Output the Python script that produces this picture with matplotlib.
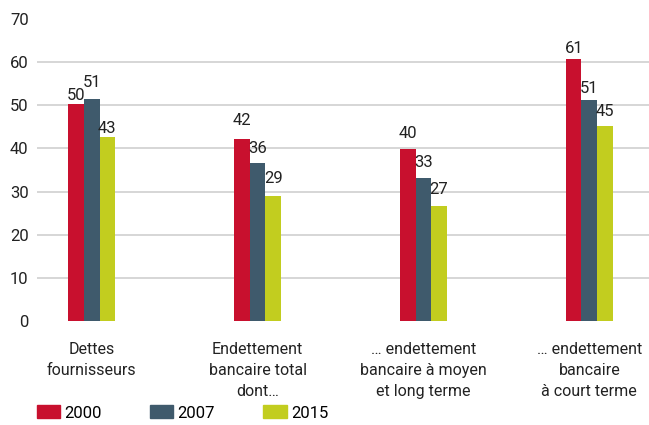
import numpy as np
import matplotlib
matplotlib.use('Agg')
import matplotlib.pyplot as plt
from matplotlib.patches import Patch

plt.rcParams['font.family'] = ['Roboto', 'DejaVu Sans']

categories = ['Dettes\nfournisseurs', 'Endettement\nbancaire total\ndont…',
              '… endettement\nbancaire à moyen\net long terme', '… endettement\nbancaire\nà court terme']
years = ['2000', '2007', '2015']
v2000 = [50, 42, 40, 61]
v2007 = [51, 36, 33, 51]
v2015 = [43, 29, 27, 45]
# hauteurs des barres
h2000 = [50.3, 42.2, 39.8, 60.8]
h2007 = [51.4, 36.7, 33.1, 51.2]
h2015 = [42.6, 29.0, 26.7, 45.2]

colors = ['#c8102e', '#3f5a6c', '#c2cd1f']
fs = 11.5
# décalage vertical des étiquettes (points), comme dans l'original
lab_dy = [[1, 8, 6, 2], [7, 5, 6, 3], [1, 7, 6, 5]]

fig = plt.figure(figsize=(6.49, 4.25), dpi=100)
ax = fig.add_axes([37/649, 104/425, 1 - 37/649, 302/425])

x = np.arange(len(categories))
w = 0.094
for k, (h, v) in enumerate(zip([h2000, h2007, h2015], [v2000, v2007, v2015])):
    pos = x + (k - 1) * w
    ax.bar(pos, h, w, color=colors[k], zorder=3)
    for j, (px, hh, vv) in enumerate(zip(pos, h, v)):
        ax.annotate(str(vv), (px, hh), xytext=(0, lab_dy[k][j]), textcoords='offset points',
                    ha='center', va='bottom', fontsize=fs + 0.5, color='#222222')

ax.set_xlim(-0.33, 3.36)
ax.set_ylim(0, 70)
ax.set_yticks(range(0, 71, 10))
for g in range(10, 61, 10):
    ax.axhline(g, color='#d3d3d3', lw=1.3, zorder=1)
ax.set_xticks(x)
ax.set_xticklabels(categories, fontsize=fs, linespacing=1.5)
ax.tick_params(axis='both', length=0, labelsize=fs + 0.5, colors='#222222')
ax.tick_params(axis='x', pad=15, labelsize=fs)
ax.tick_params(axis='y', pad=6)
for s in ax.spines.values():
    s.set_visible(False)

handles = [Patch(color=c) for c in colors]
fig.legend(handles, years, loc='center left', bbox_to_anchor=(30/649, 12/425), ncol=3,
           frameon=False, fontsize=fs + 0.5, handlelength=1.4, handleheight=0.8,
           handletextpad=0.25, columnspacing=2.9, borderaxespad=0)

fig.savefig('out.png', dpi=100)
